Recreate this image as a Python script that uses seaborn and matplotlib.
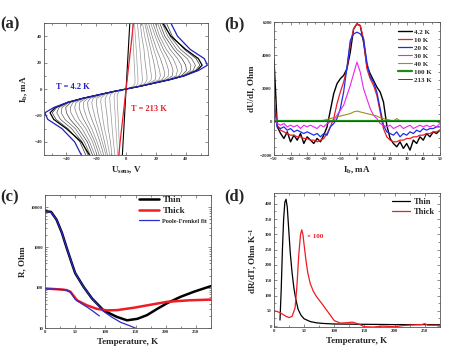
import numpy as np
import matplotlib
matplotlib.use("Agg")
import matplotlib.pyplot as plt
import seaborn as sns
from matplotlib.ticker import MultipleLocator, FixedLocator, LogLocator, NullFormatter

# ---------------- data: panel (a), I-V curves (positive branch, mirrored) ----------------
ib_grid = [0, 2, 4, 7, 10, 14, 18, 23, 30, 40, 50]
u_42K = [0, 9, 17, 29, 39, 48.5, 54.5, 52.5, 43, 34.5, 30]
u_black = [0, 9, 17, 29, 39, 47.5, 51, 48.5, 40, 30, 24.5]
u_gray = [
    [0, 9, 17, 29, 39, 46.5, 49.5, 47, 39, 31, 27],
    [0, 9, 17, 29, 38.5, 45, 46.5, 44, 36.5, 29.5, 25.5],
    [0, 9, 17, 29, 38, 43, 43.5, 41, 34, 28, 24],
    [0, 9, 17, 29, 37, 40.5, 40, 37.5, 32, 26, 22.5],
    [0, 9, 17, 28.5, 35.5, 37.5, 37, 34.5, 29.5, 24.5, 21],
    [0, 9, 17, 28, 33.5, 34.5, 33.5, 31.5, 27, 22.5, 19.5],
    [0, 9, 17, 27, 31, 31.5, 30.5, 28.5, 25, 21, 18],
    [0, 9, 17, 25.5, 28.5, 28.5, 27.5, 26, 23, 19.5, 16.5],
    [0, 9, 16.5, 24, 25.8, 25.5, 24.5, 23, 20.5, 17.5, 15],
    [0, 9, 16, 22, 23, 22.5, 21.5, 20.5, 18.5, 16, 13.5],
    [0, 9, 15, 19.5, 20, 19.5, 19, 18, 16.5, 14.5, 12.5],
    [0, 8.8, 14, 16.8, 17, 16.5, 16, 15.5, 14.5, 12.5, 11],
    [0, 8.5, 12.5, 14, 14, 13.5, 13, 12.5, 12, 10.5, 9.5],
    [0, 7.8, 10.5, 11, 10.8, 10.5, 10.2, 9.8, 9.3, 8.5, 7.5],
    [0, 6.5, 7.9, 8, 7.9, 7.7, 7.4, 7.2, 6.8, 6.2, 5.6],
    [0, 4.8, 5.9, 6, 5.9, 5.7, 5.5, 5.3, 5, 4.6, 4.2],
]
u_steep = [0, 0.1, 0.2, 0.35, 0.5, 0.7, 0.9, 1.15, 1.5, 2, 2.5]
u_213K = [0, 0.2, 0.4, 0.7, 1, 1.4, 1.8, 2.3, 3, 4, 4.9]

# ---------------- data: panel (b), differential resistance ----------------
ib_b = np.arange(-50, 52, 2)
dudi_labels = ["4.2 K", "10 K", "20 K", "30 K", "40 K", "100 K", "213 K"]
dudi_42K = [3800, -300, -700, -1000, -600, -1200, -800, -1100, -700, -1300, -900,
            -1100, -1300, -1000, -1200, -800, -300, 700, 1700, 2300, 2600,
            2800, 3200, 4200, 5600, 5900, 5800, 4800, 3400, 2900, 2500,
            2100, 1800, 1200, -200, -1000, -1300, -1500, -1200, -1600, -1300,
            -1700, -1100, -1300, -900, -1100, -700, -900, -600, -700, -500]
dudi_10K = [1500, -200, -500, -600, -700, -800, -800, -900, -900, -1000, -1000,
            -1100, -1100, -1200, -1100, -1000, -700, -300, 200, 1100, 1800,
            2400, 3200, 4700, 5600, 5900, 5800, 5000, 3200, 2600, 2200,
            1600, 600, -400, -900, -1100, -1200, -1200, -1100, -1100, -1000,
            -1000, -900, -900, -800, -800, -700, -700, -600, -600, -500]
dudi_20K = [1000, -300, -400, -300, -500, -400, -600, -500, -600, -700, -600,
            -700, -800, -700, -900, -700, -800, -300, -100, 200, 800,
            1800, 3300, 4900, 5300, 5400, 5300, 5000, 3600, 2700, 2400,
            1800, 800, -200, -600, -700, -800, -600, -900, -700, -800,
            -600, -700, -500, -600, -400, -500, -400, -400, -300, -300]
dudi_30K = [300, -100, -200, -100, -300, -200, -300, -200, -400, -200, -300,
            -200, -300, -400, -200, -300, -100, 0, 100, 400, 700,
            1000, 1600, 2200, 2900, 3600, 3000, 2000, 1400, 800, 400,
            200, -100, -200, -300, -200, -400, -300, -200, -400, -300,
            -200, -400, -300, -200, -300, -200, -300, -200, -300, -100]
dudi_40K = [300, 50, 50, 50, 50, 50, 50, 50, 50, 50, 50,
            50, 50, 50, 50, 100, 150, 200, 250, 300, 350,
            400, 450, 500, 600, 650, 600, 550, 500, 450, 400,
            350, 250, 200, 150, 100, 50, 200, 50, 50, 50,
            50, 50, 50, 50, 50, 50, 50, 50, 50, 50]
dudi_100K = [80] * 51
dudi_213K = [30] * 51

# ---------------- data: panel (c), R(T) ----------------
t_thin = [0, 10, 19, 28, 36, 44, 50, 64, 78, 97, 119, 136, 153, 169, 186, 203, 225, 247, 275]
r_thin = [7900, 7600, 4900, 2300, 960, 420, 230, 105, 54, 27.5, 19, 15.6, 17, 21, 30, 42, 60, 80, 110]
t_thick = [0, 15, 30, 36, 42, 53, 69, 86, 103, 120, 147, 175, 203, 240, 275]
r_thick = [96, 93, 90, 87, 80, 49, 37, 30, 27.5, 28, 32, 38, 45, 49, 51]
t_pf_thin = [0, 10, 19, 28, 36, 44, 50, 64, 78, 97, 110, 125, 140, 150]
r_pf_thin = [7700, 7500, 4900, 2300, 960, 420, 230, 105, 54, 26, 19, 14, 11.5, 10]
t_pf_thick = [0, 15, 30, 36, 42, 50, 60, 70, 80, 90]
r_pf_thick = [95, 93, 90, 87, 78, 52, 41, 33, 26, 20]

# ---------------- data: panel (d), dR/dT ----------------
t_d_thin = [10, 12, 14, 16, 18, 20, 22, 24, 27, 30, 33, 36, 40, 45, 50, 60, 70, 80, 100, 150, 200, 275]
d_thin = [20, 120, 250, 350, 405, 415, 390, 330, 240, 175, 125, 90, 55, 35, 24, 15, 11, 9, 7, 6, 5, 5]
t_d_thick = [0, 5, 10, 15, 20, 25, 30, 35, 38, 41, 44, 46, 48, 50, 53, 56, 60, 65, 70, 80, 90,
             100, 110, 120, 130, 140, 150, 165, 180, 200, 215, 230, 245, 250, 255, 265, 275]
d_thick = [50, 48, 44, 38, 32, 28, 32, 60, 130, 230, 300, 315, 300, 265, 215, 175, 140, 115, 98, 72, 45,
           18, 10, 11, 13, 7, -2, -3, 0, -2, 2, 4, 5, 8, 3, 3, 3]


def mirror(u):
    ib = np.array(ib_grid, dtype=float)
    uu = np.array(u, dtype=float)
    return np.concatenate([-uu[::-1], uu[1:]]), np.concatenate([-ib[::-1], ib[1:]])


sns.set_style("ticks")
plt.rcParams["font.family"] = ["Liberation Serif", "DejaVu Serif"]
plt.rcParams["font.weight"] = "bold"
plt.rcParams["axes.labelweight"] = "bold"
plt.rcParams["mathtext.fontset"] = "custom"
plt.rcParams["mathtext.rm"] = "Liberation Serif:bold"
plt.rcParams["mathtext.it"] = "Liberation Serif:bold"
plt.rcParams["mathtext.bf"] = "Liberation Serif:bold"

fig = plt.figure(figsize=(4.74, 3.59), dpi=100)
ax_a = fig.add_axes([0.093, 0.568, 0.346, 0.368])
ax_b = fig.add_axes([0.578, 0.568, 0.350, 0.370])
ax_c = fig.add_axes([0.095, 0.086, 0.350, 0.371])
ax_d = fig.add_axes([0.578, 0.089, 0.350, 0.373])


def style_ax(ax):
    for s in ax.spines.values():
        s.set_linewidth(0.6)
        s.set_color("#555555")
    ax.tick_params(which="both", direction="in", top=True, right=True,
                   labelsize=3.5, pad=1.5, width=0.4, colors="#333333")
    ax.tick_params(which="major", length=2)
    ax.tick_params(which="minor", length=1.2)


# -------------------------------
# (a) I-V curves
# -------------------------------
gray_cols = ["#333333", "#555555", "#666666", "#444444", "#777777", "#808080", "#707070",
             "#8a8a8a", "#7a7a7a", "#909090", "#858585", "#999999", "#8c8c8c", "#9a9a9a",
             "#a0a0a0", "#999999"]
for u, col in zip(u_gray, gray_cols):
    x, y = mirror(u)
    sns.lineplot(x=x, y=y, sort=False, estimator=None, color=col, lw=0.5, ax=ax_a)
x, y = mirror(u_black)
sns.lineplot(x=x, y=y, sort=False, estimator=None, color="black", lw=0.9, ax=ax_a)
x, y = mirror(u_42K)
sns.lineplot(x=x, y=y, sort=False, estimator=None, color="#2020c0", lw=0.9, ax=ax_a)
x, y = mirror(u_steep)
sns.lineplot(x=x, y=y, sort=False, estimator=None, color="black", lw=0.8, ax=ax_a)
x, y = mirror(u_213K)
sns.lineplot(x=x, y=y, sort=False, estimator=None, color="#e8202a", lw=0.9, ax=ax_a)
ax_a.set_xlim(-55, 55)
ax_a.set_ylim(-50, 50)
ax_a.xaxis.set_major_locator(MultipleLocator(20))
ax_a.xaxis.set_minor_locator(MultipleLocator(10))
ax_a.yaxis.set_major_locator(MultipleLocator(20))
ax_a.yaxis.set_minor_locator(MultipleLocator(10))
ax_a.text(-47, 1.5, "T = 4.2 K", color="#2020c0", fontsize=6, fontweight="bold", va="center")
ax_a.text(3, -15, "T = 213 K", color="#e8202a", fontsize=6, fontweight="bold", va="center")
ax_a.set_xlabel("U$_{sens}$, V", fontsize=6.5, labelpad=3)
ax_a.set_ylabel("I$_b$, mA", fontsize=6.5, labelpad=3)
style_ax(ax_a)

# -------------------------------
# (b) dU/dI
# -------------------------------
b_series = [dudi_42K, dudi_10K, dudi_20K, dudi_30K, dudi_40K, dudi_100K, dudi_213K]
b_colors = ["black", "#ee1c24", "#1c2ee8", "#f020f0", "#a08c1c", "#1a8c1a", "#444444"]
b_widths = [1.0, 0.9, 0.9, 0.8, 0.8, 1.6, 0.7]
for vals, lab, col, lw in zip(b_series, dudi_labels, b_colors, b_widths):
    sns.lineplot(x=ib_b, y=vals, color=col, lw=lw, label=lab, ax=ax_b)
ax_b.set_xlim(-50, 50)
ax_b.set_ylim(-2000, 6000)
ax_b.xaxis.set_major_locator(MultipleLocator(10))
ax_b.xaxis.set_minor_locator(MultipleLocator(5))
ax_b.yaxis.set_major_locator(MultipleLocator(2000))
ax_b.yaxis.set_minor_locator(MultipleLocator(500))
ax_b.set_xlabel("I$_b$, mA", fontsize=6.5, labelpad=3)
ax_b.set_ylabel("dU/dI, Ohm", fontsize=6.5, labelpad=3)
ax_b.legend(loc="upper right", bbox_to_anchor=(0.97, 0.97), frameon=False,
            fontsize=5, handlelength=2.0, handletextpad=0.4, labelspacing=0.3,
            borderaxespad=0)
style_ax(ax_b)

# -------------------------------
# (c) R(T)
# -------------------------------
sns.lineplot(x=t_thin, y=r_thin, color="black", lw=1.8, label="Thin", ax=ax_c)
sns.lineplot(x=t_thick, y=r_thick, color="#ee1c24", lw=1.8, label="Thick", ax=ax_c)
sns.lineplot(x=t_pf_thin, y=r_pf_thin, color="#2a2ad0", lw=0.9, label="Poole-Frenkel fit", ax=ax_c)
sns.lineplot(x=t_pf_thick, y=r_pf_thick, color="#2a2ad0", lw=0.9, ax=ax_c)
ax_c.set_yscale("log")
ax_c.set_xlim(0, 275)
ax_c.set_ylim(10, 20000)
ax_c.xaxis.set_major_locator(MultipleLocator(50))
ax_c.xaxis.set_minor_locator(MultipleLocator(25))
ax_c.yaxis.set_major_locator(FixedLocator([10, 100, 1000, 10000]))
ax_c.yaxis.set_major_formatter(plt.FuncFormatter(lambda v, p: f"{int(v)}"))
ax_c.yaxis.set_minor_locator(LogLocator(base=10, subs=np.arange(2, 10)))
ax_c.yaxis.set_minor_formatter(NullFormatter())
ax_c.set_xlabel("Temperature, K", fontsize=6.5, labelpad=3)
ax_c.set_ylabel("R, Ohm", fontsize=6.5, labelpad=3)
leg_c = ax_c.legend(loc="upper right", bbox_to_anchor=(1.0, 1.02), frameon=False,
                    fontsize=6.5, handlelength=2.2, handletextpad=0.4, labelspacing=0.25,
                    borderaxespad=0)
leg_c.get_texts()[2].set_fontsize(4.5)
style_ax(ax_c)

# -------------------------------
# (d) dR/dT
# -------------------------------
sns.lineplot(x=t_d_thin, y=d_thin, color="black", lw=0.9, label="Thin", ax=ax_d)
sns.lineplot(x=t_d_thick, y=d_thick, color="#ee1c24", lw=0.9, label="Thick", ax=ax_d)
ax_d.text(55, 293, "× 100", color="#ee1c24", fontsize=5, fontweight="bold", va="center")
ax_d.set_xlim(0, 275)
ax_d.set_ylim(-3, 435)
ax_d.xaxis.set_major_locator(MultipleLocator(50))
ax_d.xaxis.set_minor_locator(MultipleLocator(25))
ax_d.yaxis.set_major_locator(MultipleLocator(50))
ax_d.yaxis.set_minor_locator(MultipleLocator(25))
ax_d.set_xlabel("Temperature, K", fontsize=6.5, labelpad=3)
ax_d.set_ylabel("dR/dT, Ohm K$^{-1}$", fontsize=6.5, labelpad=3)
ax_d.legend(loc="upper right", bbox_to_anchor=(0.99, 0.99), frameon=False,
            fontsize=6, handlelength=2.2, handletextpad=0.4, labelspacing=0.25,
            borderaxespad=0)
style_ax(ax_d)

# panel letters
for xf, yf, lab in [(0.0, 1 - 24 / 359, "(a)"), (224 / 474, 1 - 24 / 359, "(b)"),
                    (0.0, 1 - 197 / 359, "(c)"), (224 / 474, 1 - 196 / 359, "(d)")]:
    fig.text(xf, yf, lab, fontsize=12, fontweight="bold", va="center", ha="left")

fig.savefig("out.png", dpi=100)
